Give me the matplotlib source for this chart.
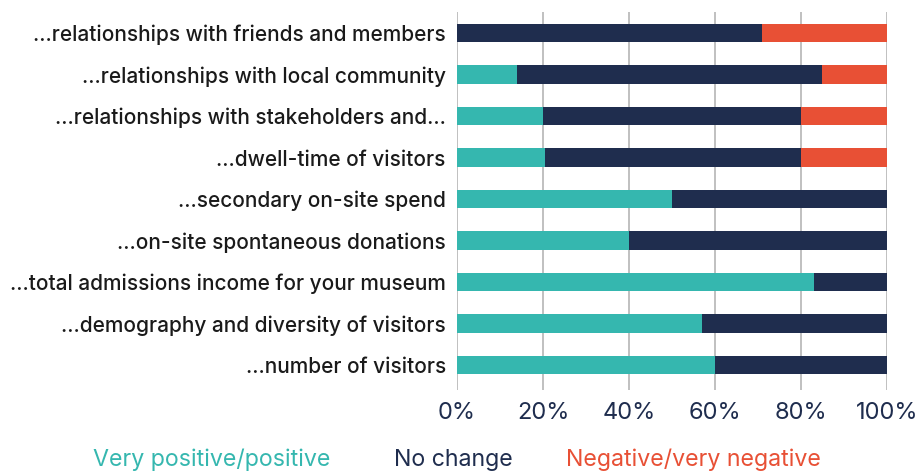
import numpy as np
import matplotlib.pyplot as plt
from matplotlib.ticker import PercentFormatter

categories = [
    '...relationships with friends and members',
    '...relationships with local community',
    '...relationships with stakeholders and...',
    '...dwell-time of visitors',
    '...secondary on-site spend',
    '...on-site spontaneous donations',
    '...total admissions income for your museum',
    '...demography and diversity of visitors',
    '...number of visitors',
]
positive = [0, 14, 20, 20.5, 50, 40, 83, 57, 60]
no_change = [71, 71, 60, 59.5, 50, 60, 17, 43, 40]
negative = [29, 15, 20, 20, 0, 0, 0, 0, 0]
series_names = ['Very positive/positive', 'No change', 'Negative/very negative']
colors = ['#35b7af', '#1f2d4e', '#e85035']
x_ticks = [0, 20, 40, 60, 80, 100]

plt.rcParams['font.family'] = ['Inter', 'DejaVu Sans']

fig = plt.figure(figsize=(9.2, 4.72), dpi=100)
ax = fig.add_axes([0.4967, 0.174, 0.4674, 0.8])

y = np.arange(len(categories))
left = np.zeros(len(categories))
for values, color in zip([positive, no_change, negative], colors):
    ax.barh(y, values, left=left, height=0.44, color=color, zorder=2)
    left += np.array(values)

ax.set_yticks(y)
ax.set_yticklabels(categories, fontsize=15, color='#1a1a1a', fontweight='medium')
ax.set_ylim(len(categories) - 0.4, -0.5)
ax.set_xlim(0, 100)
ax.set_xticks(x_ticks)
ax.xaxis.set_major_formatter(PercentFormatter(decimals=0))
ax.tick_params(axis='x', labelsize=17, colors='#1f2d4e', length=0, pad=9)
ax.tick_params(axis='y', length=0, pad=8)
ax.grid(axis='x', color='#bbbbbb', linewidth=1.3, zorder=0)
ax.set_axisbelow(True)
for spine in ax.spines.values():
    spine.set_visible(False)

for name, color, xpos in zip(series_names, colors, [0.2304, 0.4924, 0.7533]):
    fig.text(xpos, 0.012, name, color=color, fontsize=16.7, ha='center', va='baseline')

fig.savefig('out.png', dpi=100)
